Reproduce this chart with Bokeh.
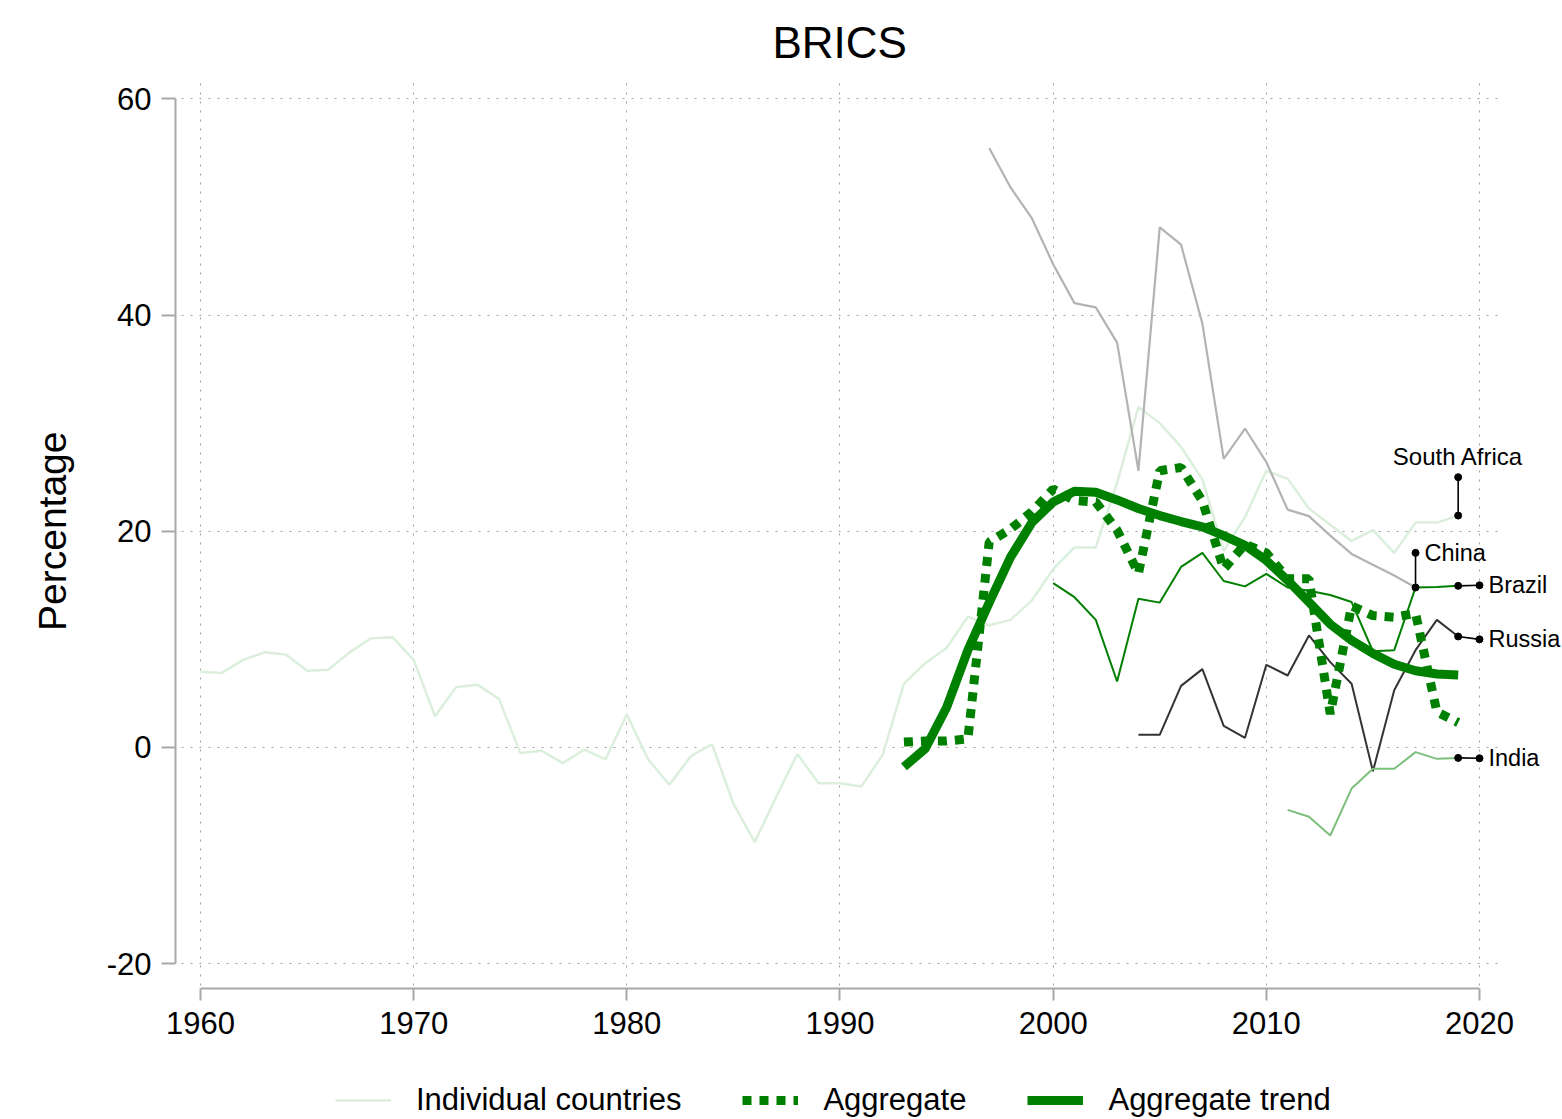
import math
from bokeh.plotting import figure
from bokeh.models import (Range1d, FixedTicker, Legend, LegendItem, ColumnDataSource,
                          LabelSet, Label, PrintfTickFormatter)
from bokeh.embed import file_html
from bokeh.resources import INLINE
from bokeh.core.properties import value

FONT = "Liberation Sans"

# ---------------- data ----------------
years_south_africa = list(range(1960, 2020))
south_africa = [7.0, 6.9, 8.1, 8.8, 8.6, 7.1, 7.2, 8.8, 10.1, 10.2,
                8.1, 2.9, 5.6, 5.8, 4.5, -0.5, -0.3, -1.45, -0.2, -1.1,
                3.05, -1.1, -3.45, -0.8, 0.3, -5.2, -8.75, -4.6, -0.6, -3.3,
                -3.3, -3.6, -0.7, 5.9, 7.8, 9.2, 12.1, 11.3, 11.8, 13.6,
                16.5, 18.5, 18.5, 24.5, 31.5, 30.0, 27.8, 24.8, 18.2, 21.3,
                25.6, 24.85, 22.1, 20.6, 19.1, 20.1, 18.0, 20.8, 20.8, 21.45]

years_china = list(range(1997, 2018))
china = [55.45, 51.8, 48.95, 44.7, 41.1, 40.7, 37.45, 25.6, 48.1, 46.5,
         39.2, 26.7, 29.5, 26.4, 22.0, 21.4, 19.6, 17.9, 16.9, 15.9, 14.8]

years_brazil = list(range(2000, 2020))
brazil = [15.2, 13.9, 11.8, 6.1, 13.75, 13.4, 16.7, 18.0, 15.4, 14.9,
          16.05, 14.8, 14.5, 14.1, 13.45, 8.9, 9.0, 14.8, 14.85, 14.95]

years_russia = list(range(2004, 2020))
russia = [1.17, 1.17, 5.7, 7.25, 2.0, 0.9, 7.65, 6.66, 10.36, 7.9,
          5.9, -2.2, 5.3, 9.0, 11.8, 10.27]

years_india = list(range(2011, 2020))
india = [-5.77, -6.4, -8.14, -3.8, -1.97, -1.97, -0.43, -1.05, -0.96]

years_aggregate = list(range(1993, 2020))
aggregate = [0.5, 0.6, 0.6, 0.8, 19.0, 20.2, 21.8,
             23.9, 22.85, 22.7, 20.1, 16.1, 25.6, 25.9, 22.8, 16.5, 18.8,
             18.0, 15.6, 15.6, 3.1, 13.1, 12.2, 12.05, 12.4, 3.3, 2.3]
aggregate_trend = [-1.8, -0.1, 3.7, 9.0, 13.4, 17.6, 20.8,
                   22.7, 23.7, 23.6, 22.9, 22.1, 21.45, 20.9, 20.4, 19.6, 18.7,
                   17.3, 15.45, 13.45, 11.4, 9.9, 8.7, 7.7, 7.1, 6.8, 6.7]

x_ticks = [1960, 1970, 1980, 1990, 2000, 2010, 2020]
y_ticks = [-20, 0, 20, 40, 60]

label_names = ["South Africa", "China", "Brazil", "Russia", "India"]
label_from_x = [years_south_africa[-1], years_china[-1], years_brazil[-1],
                years_russia[-1], years_india[-1]]
label_from_y = [south_africa[-1], china[-1], brazil[-1], russia[-1], india[-1]]
label_to_x = [2019, 2017, 2020, 2020, 2020]
label_to_y = [25.0, 18.0, 15.0, 10.0, -1.0]

# ---------------- figure ----------------
# The frame fills the canvas below the title; both axes sit at fixed locations
# so that tick labels, the legend and the country labels stay inside the frame.
X_LO, X_HI = 1950.618, 2023.894
X_AXIS_AT = 1958.827          # where the y axis line sits
Y_AXIS_AT = -22.289           # where the x axis line sits
Y_LO, Y_HI = -34.405, 61.688

p = figure(width=1562, height=1119,
           x_range=Range1d(X_LO, X_HI), y_range=Range1d(Y_LO, Y_HI),
           output_backend="svg", toolbar_location=None, title="BRICS")
p.min_border_left = 0
p.min_border_right = 0
p.min_border_top = 80
p.min_border_bottom = 0
p.outline_line_color = None
p.background_fill_color = "white"
p.border_fill_color = "white"

p.title.align = "left"
p.title.offset = 772
p.title.text_font = FONT
p.title.text_font_size = "44px"
p.title.text_font_style = "normal"
p.title.text_color = "black"
p.title.standoff = 28

for ax in (p.xaxis[0], p.yaxis[0]):
    ax.axis_line_color = "#a8a8a8"
    ax.axis_line_width = 2
    ax.major_tick_line_color = "#a8a8a8"
    ax.major_tick_line_width = 2
    ax.major_tick_in = 0
    ax.minor_tick_line_color = None
    ax.major_label_text_font = FONT
    ax.major_label_text_font_size = "31px"
    ax.major_label_text_color = "black"
    ax.formatter = PrintfTickFormatter(format="%d")

p.xaxis.ticker = FixedTicker(ticks=x_ticks)
p.yaxis.ticker = FixedTicker(ticks=y_ticks)
p.xaxis.bounds = (x_ticks[0], x_ticks[-1])
p.yaxis.bounds = (y_ticks[0], y_ticks[-1])
p.xaxis.fixed_location = Y_AXIS_AT
p.yaxis.fixed_location = X_AXIS_AT
p.xaxis.major_tick_out = 12
p.xaxis.major_label_standoff = 12
p.yaxis.major_tick_out = 14
p.yaxis.major_label_standoff = 10

# y-axis title, centred on the axis span (not on the frame)
p.add_layout(Label(x=52, y=(y_ticks[0] + y_ticks[-1]) / 2, x_units="screen",
                   text="Percentage", angle=math.pi / 2, text_align="center",
                   text_baseline="middle", text_font=FONT,
                   text_font_size="39px", text_color="black"))

for g in (p.xgrid[0], p.ygrid[0]):
    g.grid_line_color = "#a0a0a0"
    g.grid_line_width = 1
    g.grid_line_dash = "2 7"
p.xgrid.ticker = FixedTicker(ticks=x_ticks)
p.ygrid.ticker = FixedTicker(ticks=y_ticks)
try:
    p.ygrid[0].cross_bounds = (1959.1, 2021.0)
    p.xgrid[0].cross_bounds = (-22.0, 61.7)
except AttributeError:
    pass

# ---------------- lines ----------------
r_sa = p.line(years_south_africa, south_africa, line_color="#dcefdc", line_width=2.5)
p.line(years_china, china, line_color="#b3b3b3", line_width=2.2)
p.line(years_brazil, brazil, line_color="#007f00", line_width=2)
p.line(years_russia, russia, line_color="#333333", line_width=2)
p.line(years_india, india, line_color="#7cbf7c", line_width=2)
r_agg = p.line(years_aggregate, aggregate, line_color="#008000", line_width=9,
               line_dash="9 8", line_cap="butt")
r_trend = p.line(years_aggregate, aggregate_trend, line_color="#008000", line_width=9)

# ---------------- country labels ----------------
p.segment(x0=label_from_x, y0=label_from_y, x1=label_to_x, y1=label_to_y,
          line_color="black", line_width=1.6)
p.scatter(label_from_x, label_from_y, size=7, color="black")
p.scatter(label_to_x, label_to_y, size=7, color="black")

src_top = ColumnDataSource(dict(x=label_to_x[:1], y=label_to_y[:1], t=label_names[:1]))
src_side = ColumnDataSource(dict(x=label_to_x[1:], y=label_to_y[1:], t=label_names[1:]))
p.add_layout(LabelSet(x="x", y="y", text="t", source=src_top, text_align="center",
                      text_baseline="bottom", y_offset=7, text_font=value(FONT),
                      text_font_size="24px", text_color="black"))
p.add_layout(LabelSet(x="x", y="y", text="t", source=src_side, text_align="left",
                      text_baseline="middle", x_offset=9, text_font=value(FONT),
                      text_font_size="23.5px", text_color="black"))

# ---------------- legend ----------------
legend = Legend(items=[LegendItem(label="Individual countries", renderers=[r_sa]),
                       LegendItem(label="Aggregate", renderers=[r_agg]),
                       LegendItem(label="Aggregate trend", renderers=[r_trend])],
                location=(335, 1), orientation="horizontal",
                label_text_font=FONT, label_text_font_size="31px",
                label_text_color="black",
                glyph_width=56, glyph_height=30, label_standoff=25, spacing=61,
                padding=0, margin=0, border_line_color=None,
                background_fill_alpha=0)
p.add_layout(legend)

open("out.html", "w").write(file_html(p, INLINE))
